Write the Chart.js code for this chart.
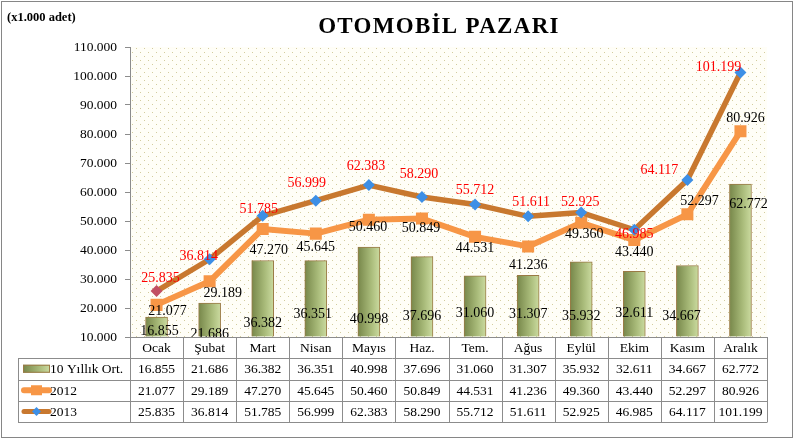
<!DOCTYPE html>
<html>
<head>
<meta charset="utf-8">
<script src="https://cdn.jsdelivr.net/npm/chart.js@4.4.0/dist/chart.umd.min.js"></script>
<style>
  html, body { margin: 0; padding: 0; background: #fff; }
</style>
</head>
<body>
<canvas id="otomobil-chart" width="795" height="441"></canvas>
<script>
const months = ["Ocak", "Şubat", "Mart", "Nisan", "Mayıs", "Haz.", "Tem.", "Ağus", "Eylül", "Ekim", "Kasım", "Aralık"];
const avg10 = [16855, 21686, 36382, 36351, 40998, 37696, 31060, 31307, 35932, 32611, 34667, 62772];
const sales2012 = [21077, 29189, 47270, 45645, 50460, 50849, 44531, 41236, 49360, 43440, 52297, 80926];
const sales2013 = [25835, 36814, 51785, 56999, 62383, 58290, 55712, 51611, 52925, 46985, 64117, 101199];
const seriesNames = ["10 Yıllık Ort.", "2012", "2013"];
const yMin = 10000, yMax = 110000, yStep = 10000;
const chartTitle = "OTOMOBİL PAZARI";
const unitText = "(x1.000 adet)";

// label nudges (px) like the hand-placed excel labels
const off2013 = [[4,-13],[-11,-3],[-4,-6],[-9,-17],[-3,-19],[-3,-23],[0,-14],[3,-14],[-1,-10],[0,5],[-28,-10],[-22,-5]];
const off2012 = [[11,6],[13,12],[6,21],[0,14],[-1,8],[-1,10],[0,11],[0,19],[3,11],[0,12],[12,-13],[5,-13]];
const offBars = [[3,-6],[0,-3],[0,-14],[-3,-23],[0,-18],[0,-21],[0,-24],[0,-23],[0,-21],[0,-24],[-6,-21],[8,-133]];

const SERIF = "'Liberation Serif', 'DejaVu Serif', serif";
const GRAY = "#8c8c8c";

function fmt(v) {
  return String(v).replace(/\B(?=(\d{3})+(?!\d))/g, ".");
}

// dotted cream fill of the plot area
const dotCanvas = document.createElement("canvas");
dotCanvas.width = 8;
dotCanvas.height = 8;
const dc = dotCanvas.getContext("2d");
dc.fillStyle = "#fffef7";
dc.fillRect(0, 0, 8, 8);
dc.fillStyle = "#d3cc9e";
dc.fillRect(0, 0, 1, 1);
dc.fillRect(4, 4, 1, 1);

function barGradient(ctx, x0, x1) {
  const g = ctx.createLinearGradient(x0, 0, x1, 0);
  g.addColorStop(0, "#77874a");
  g.addColorStop(0.6, "#a9bb7a");
  g.addColorStop(1, "#cbdba0");
  return g;
}

const backgroundPlugin = {
  id: "background",
  beforeDraw(chart) {
    const { ctx, chartArea: a } = chart;
    ctx.save();
    ctx.fillStyle = "#fff";
    ctx.fillRect(0, 0, chart.width, chart.height);
    ctx.fillStyle = ctx.createPattern(dotCanvas, "repeat");
    ctx.fillRect(a.left, a.top, a.right - a.left, a.bottom - a.top);
    ctx.strokeStyle = "#868686";
    ctx.lineWidth = 1;
    ctx.strokeRect(1.5, 1.5, chart.width - 4, chart.height - 5);
    // titles
    ctx.fillStyle = "#000";
    ctx.textBaseline = "alphabetic";
    ctx.font = "bold 23px " + SERIF;
    ctx.textAlign = "center";
    ctx.letterSpacing = "1.3px";
    ctx.fillText(chartTitle, 439, 33);
    ctx.letterSpacing = "0px";
    ctx.font = "bold 12.5px " + SERIF;
    ctx.textAlign = "left";
    ctx.fillText(unitText, 7, 21);
    ctx.restore();
  }
};

const labelPlugin = {
  id: "valueLabels",
  afterDatasetsDraw(chart) {
    const ctx = chart.ctx;
    const yScale = chart.scales.y;
    const base = yScale.getPixelForValue(yMin);
    ctx.save();
    ctx.font = "14px " + SERIF;
    ctx.textAlign = "center";
    ctx.textBaseline = "middle";

    const bars = chart.getDatasetMeta(0).data;
    ctx.fillStyle = "#000";
    bars.forEach((el, i) => {
      ctx.fillText(fmt(avg10[i]), el.x + offBars[i][0], base + offBars[i][1]);
    });

    chart.getDatasetMeta(1).data.forEach((el, i) => {
      ctx.fillText(fmt(sales2012[i]), el.x + off2012[i][0], el.y + off2012[i][1]);
    });

    ctx.fillStyle = "#ff0000";
    chart.getDatasetMeta(2).data.forEach((el, i) => {
      ctx.fillText(fmt(sales2013[i]), el.x + off2013[i][0], el.y + off2013[i][1]);
    });
    ctx.restore();
  }
};

const tablePlugin = {
  id: "dataTable",
  afterDraw(chart) {
    const ctx = chart.ctx;
    const a = chart.chartArea;
    const xs = chart.scales.x;
    const colW = (a.right - a.left) / months.length;
    const top = a.bottom;
    const rows = [top, 358, 379.5, 401, 422];
    const leftEdge = 18;
    const rowData = [avg10, sales2012, sales2013];

    ctx.save();
    ctx.strokeStyle = GRAY;
    ctx.lineWidth = 1;
    ctx.beginPath();
    // horizontal lines
    ctx.moveTo(a.left, Math.round(top) + 0.5);
    ctx.lineTo(a.right, Math.round(top) + 0.5);
    for (let r = 1; r < rows.length; r++) {
      ctx.moveTo(leftEdge, Math.round(rows[r]) + 0.5);
      ctx.lineTo(a.right, Math.round(rows[r]) + 0.5);
    }
    // vertical lines
    for (let c = 0; c <= months.length; c++) {
      const x = Math.round(a.left + c * colW) + 0.5;
      ctx.moveTo(x, top);
      ctx.lineTo(x, rows[4] + 0.5);
    }
    ctx.moveTo(leftEdge + 0.5, rows[1]);
    ctx.lineTo(leftEdge + 0.5, rows[4] + 0.5);
    ctx.stroke();

    ctx.fillStyle = "#000";
    ctx.font = "13.5px " + SERIF;
    ctx.textBaseline = "middle";
    ctx.textAlign = "center";
    months.forEach((m, i) => {
      const cx = xs.getPixelForValue(i);
      ctx.fillText(m, cx, (rows[0] + rows[1]) / 2 + 1);
      rowData.forEach((arr, r) => {
        ctx.fillText(fmt(arr[i]), cx, (rows[r + 1] + rows[r + 2]) / 2 + 1);
      });
    });

    // legend keys + names
    ctx.textAlign = "left";
    seriesNames.forEach((name, r) => {
      ctx.fillText(name, 50, (rows[r + 1] + rows[r + 2]) / 2 + 1);
    });

    let cy = (rows[1] + rows[2]) / 2;
    ctx.fillStyle = barGradient(ctx, 23, 50);
    ctx.fillRect(23, cy - 4, 27, 8);
    ctx.strokeStyle = "#9a7a45";
    ctx.strokeRect(23.5, cy - 3.5, 26, 7);

    cy = (rows[2] + rows[3]) / 2;
    ctx.strokeStyle = "#f79646";
    ctx.lineWidth = 6;
    ctx.lineCap = "round";
    ctx.beginPath();
    ctx.moveTo(24, cy);
    ctx.lineTo(49, cy);
    ctx.stroke();
    ctx.fillStyle = "#f79646";
    ctx.fillRect(31, cy - 5, 11, 10);

    cy = (rows[3] + rows[4]) / 2;
    ctx.strokeStyle = "#c8782f";
    ctx.lineWidth = 5;
    ctx.beginPath();
    ctx.moveTo(24, cy);
    ctx.lineTo(49, cy);
    ctx.stroke();
    ctx.fillStyle = "#3d8fe6";
    ctx.beginPath();
    ctx.moveTo(36.5, cy - 4.5);
    ctx.lineTo(41, cy);
    ctx.lineTo(36.5, cy + 4.5);
    ctx.lineTo(32, cy);
    ctx.closePath();
    ctx.fill();
    ctx.restore();
  }
};

const ctx = document.getElementById("otomobil-chart").getContext("2d");
const chart = new Chart(ctx, {
  data: {
    labels: months,
    datasets: [
      {
        type: "bar",
        label: seriesNames[0],
        data: avg10,
        base: yMin,
        order: 3,
        barThickness: 22,
        borderWidth: 1,
        borderColor: "#9a7a45",
        backgroundColor: (c) => {
          const ch = c.chart;
          if (!ch.chartArea || c.dataIndex === undefined) return "#a9bb7a";
          const x = ch.scales.x.getPixelForValue(c.dataIndex);
          return barGradient(ch.ctx, x - 11, x + 11);
        },
      },
      {
        type: "line",
        label: seriesNames[1],
        data: sales2012,
        order: 2,
        borderColor: "#f79646",
        borderWidth: 6,
        borderJoinStyle: "round",
        pointStyle: "rect",
        pointRadius: 8.5,
        pointBorderWidth: 0,
        pointBackgroundColor: "#f79646",
      },
      {
        type: "line",
        label: seriesNames[2],
        data: sales2013,
        order: 1,
        borderColor: "#c8782f",
        borderWidth: 5.5,
        borderJoinStyle: "round",
        pointStyle: "rectRot",
        pointRadius: 6,
        pointBorderWidth: 0,
        pointBackgroundColor: ["#c24f63"].concat(new Array(months.length - 1).fill("#3d8fe6")),
      },
    ],
  },
  options: {
    responsive: false,
    animation: false,
    layout: { padding: { left: 0, top: 47, right: 28, bottom: 104 } },
    plugins: {
      legend: { display: false },
      tooltip: { enabled: false },
    },
    scales: {
      x: { display: false, offset: true },
      y: {
        min: yMin,
        max: yMax,
        afterFit: (s) => { s.width = 130; },
        ticks: {
          stepSize: yStep,
          padding: 8,
          color: "#000",
          font: { family: SERIF, size: 13.5 },
          callback: (v) => fmt(v),
        },
        grid: { drawOnChartArea: false, drawTicks: true, tickLength: 5, color: GRAY },
        border: { display: true, color: GRAY },
      },
    },
  },
  plugins: [backgroundPlugin, labelPlugin, tablePlugin],
});
</script>
</body>
</html>
